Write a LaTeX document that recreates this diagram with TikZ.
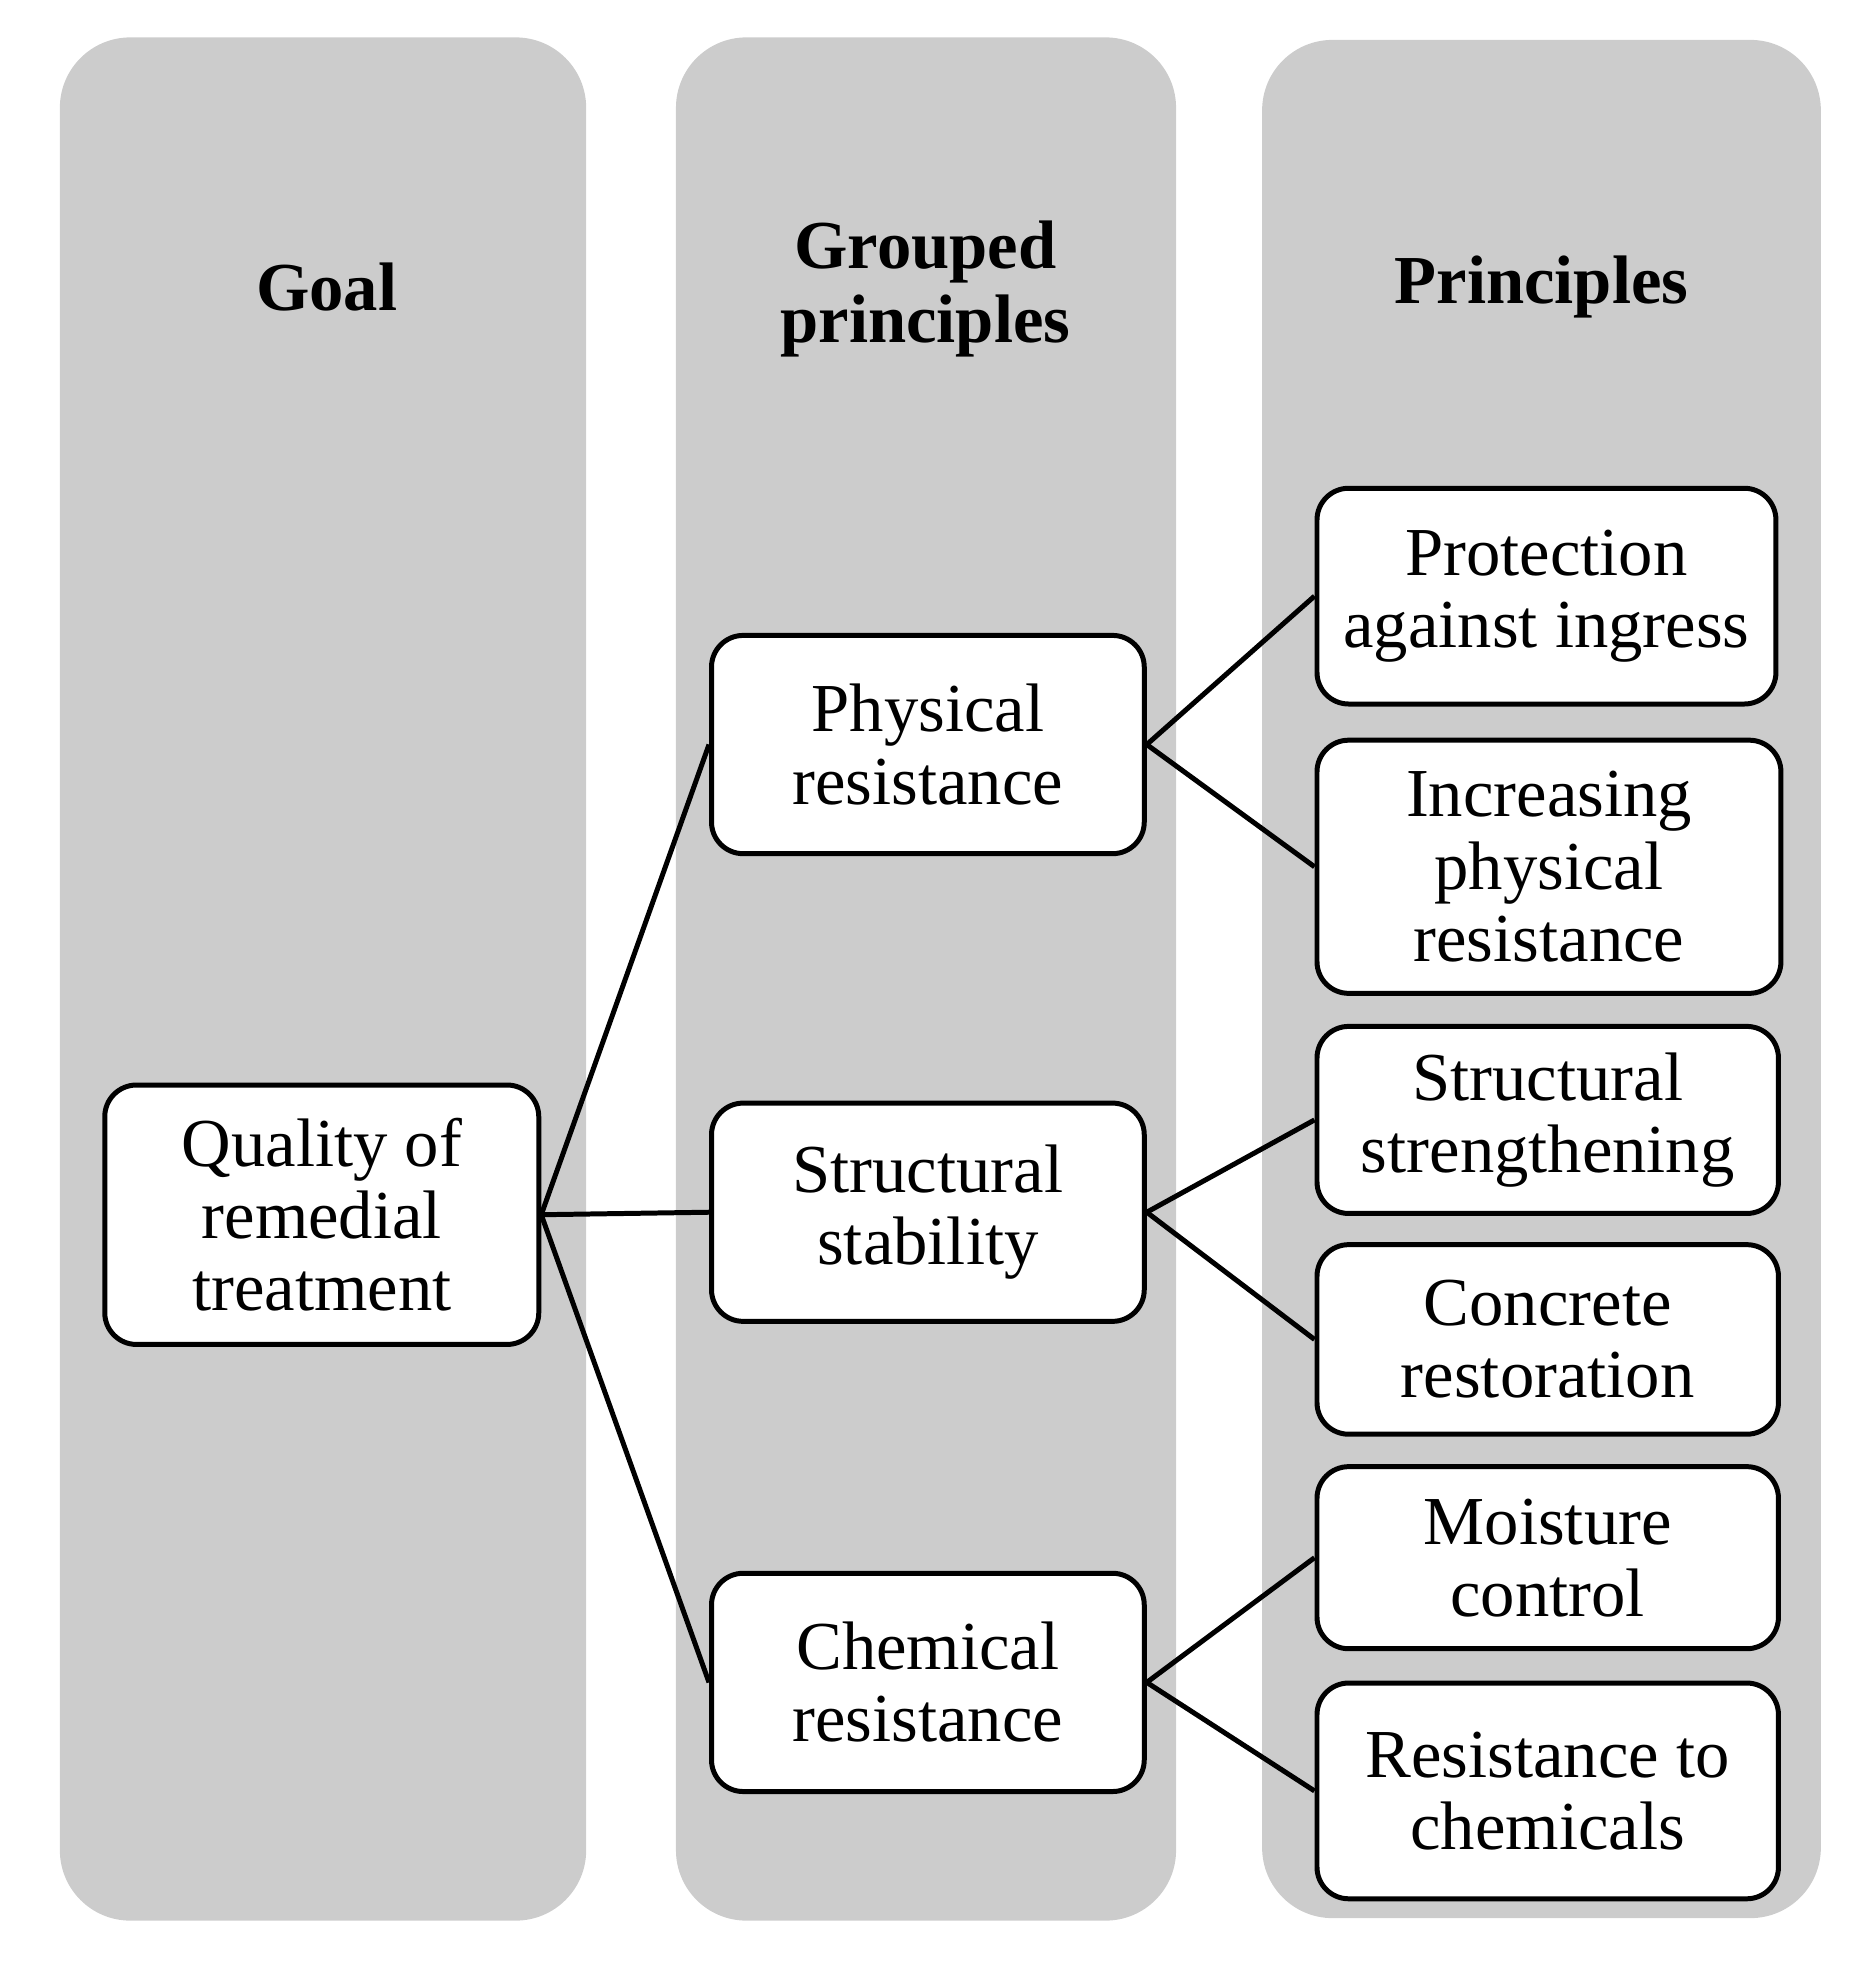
\documentclass[tikz,border=0pt]{standalone}
\usepackage{fontspec}
\setmainfont{Liberation Serif}
\begin{document}
\begin{tikzpicture}[x=0.0249cm,y=-0.0249cm,
 col/.style={fill=black!20,draw=none,rounded corners=40},
 box/.style={draw=black,line width=4*0.0249cm,fill=white,rounded corners=18,align=center,inner sep=0pt,font=\fontsize{39}{41}\selectfont},
 hd/.style={align=center,font=\fontsize{39}{42}\selectfont\bfseries},
 ln/.style={line width=4*0.0249cm}]
\useasboundingbox (0,0) rectangle (1500,1574);
\fill[col] (48,30) rectangle (470,1540);
\fill[col] (542,30) rectangle (943,1540);
\fill[col] (1012,32) rectangle (1460,1538);
\node[hd] (h1) at (262,230) {Goal};
\node[hd] (h2) at (742,232) {Grouped\\principles};
\node[hd] (h3) at (1236,230) {Principles};
\node[box,minimum width=348*0.0249cm,minimum height=208*0.0249cm] (q) at (258,974) {Quality of\\remedial\\treatment};
\node[box,minimum width=347*0.0249cm,minimum height=175*0.0249cm] (p) at (744,597) {Physical\\resistance};
\node[box,minimum width=347*0.0249cm,minimum height=175*0.0249cm] (s) at (744,972) {Structural\\stability};
\node[box,minimum width=347*0.0249cm,minimum height=175*0.0249cm] (c) at (744,1349) {Chemical\\resistance};
\node[box,minimum width=368*0.0249cm,minimum height=173*0.0249cm] (r1) at (1240,478) {Protection\\against ingress};
\node[box,minimum width=372*0.0249cm,minimum height=203*0.0249cm] (r2) at (1242,695) {Increasing\\physical\\resistance};
\node[box,minimum width=370*0.0249cm,minimum height=150*0.0249cm] (r3) at (1241,898) {Structural\\strengthening};
\node[box,minimum width=370*0.0249cm,minimum height=152*0.0249cm] (r4) at (1241,1074) {Concrete\\restoration};
\node[box,minimum width=370*0.0249cm,minimum height=146*0.0249cm] (r5) at (1241,1249) {Moisture\\control};
\node[box,minimum width=370*0.0249cm,minimum height=173*0.0249cm] (r6) at (1241,1436) {Resistance to\\chemicals};
\draw[ln] (q.east) -- (p.west);
\draw[ln] (q.east) -- (s.west);
\draw[ln] (q.east) -- (c.west);
\draw[ln] (p.east) -- (r1.west);
\draw[ln] (p.east) -- (r2.west);
\draw[ln] (s.east) -- (r3.west);
\draw[ln] (s.east) -- (r4.west);
\draw[ln] (c.east) -- (r5.west);
\draw[ln] (c.east) -- (r6.west);
\end{tikzpicture}
\end{document}
